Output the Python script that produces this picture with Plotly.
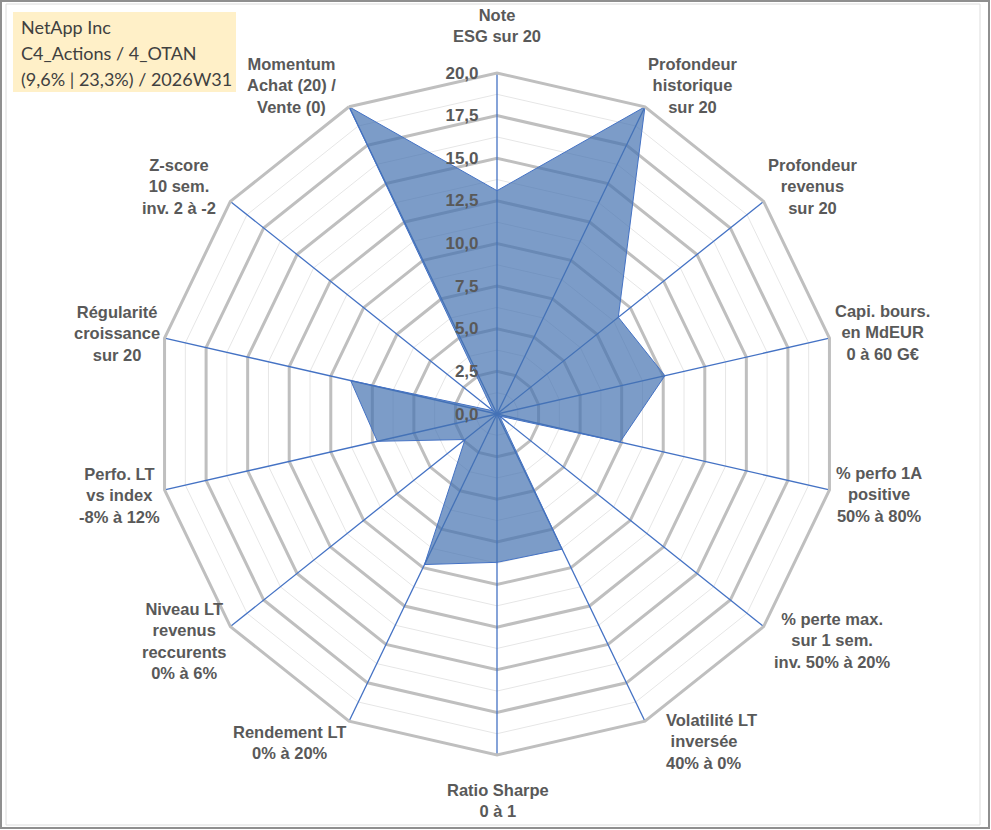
import plotly.graph_objects as go

categories = [
    "Note<br>ESG sur 20",
    "Profondeur<br>historique<br>sur 20",
    "Profondeur<br>revenus<br>sur 20",
    "Capi. bours.<br>en MdEUR<br>0 à 60 G€",
    "% perfo 1A<br>positive<br>50% à 80%",
    "% perte max.<br>sur 1 sem.<br>inv. 50% à 20%",
    "Volatilité LT<br> inversée<br>40% à 0%",
    "Ratio Sharpe<br>0 à 1",
    "Rendement LT<br>0% à 20%",
    "Niveau LT<br>revenus<br>reccurents<br>0% à 6%",
    "Perfo. LT<br>vs index<br>-8% à 12%",
    "Régularité<br>croissance<br>sur 20",
    "Z-score<br>10 sem.<br>inv. 2 à -2",
    "Momentum<br>Achat (20) /<br>Vente (0)",
]
values = [13.1, 20.0, 9.1, 10.1, 7.4, 0.2, 8.8, 8.7, 9.8, 2.4, 7.2, 8.8, 0.3, 20.0]

r_max = 20.0
major_step = 2.5
minor_levels = [1.25, 3.75, 6.25, 8.75, 11.25, 13.75, 16.25, 18.75]

info_lines = ["NetApp Inc", "C4_Actions / 4_OTAN", "(9,6% | 23,3%) / 2026W31"]

# label placement (pixel centre, alignment) for each category label
label_pos = [
    (497, 26, "center"), (692, 86, "center"), (812, 187, "center"),
    (882, 332, "center"), (879, 494, "center"), (832, 640, "center"),
    (664, 741, "left"), (498, 800, "center"), (289, 742, "center"),
    (184, 641, "center"), (119, 495, "center"), (117, 333, "center"),
    (179, 187, "center"), (291, 86, "center"),
]

W, H = 991, 830
cx, cy, R = 497, 414, 341
LABEL_FONT = dict(family="Liberation Sans, Arial", size=16.5, color="#595959", weight="bold")

fig = go.Figure()

theta_closed = categories + [categories[0]]

# minor rings
for lv in minor_levels:
    fig.add_trace(go.Scatterpolar(
        r=[lv] * len(theta_closed), theta=theta_closed, mode="lines",
        line=dict(color="#E6E6E6", width=1), hoverinfo="skip", showlegend=False))

# spokes
for c in categories:
    fig.add_trace(go.Scatterpolar(
        r=[0, r_max], theta=[c, c], mode="lines",
        line=dict(color="#4472C4", width=1.3), hoverinfo="skip", showlegend=False))

# data
fig.add_trace(go.Scatterpolar(
    r=values + [values[0]], theta=theta_closed, mode="lines",
    fill="toself", fillcolor="rgba(68,114,176,0.70)",
    line=dict(color="#4472C4", width=1), showlegend=False))

fig.update_layout(
    width=W, height=H,
    margin=dict(l=0, r=0, t=0, b=0),
    paper_bgcolor="white",
    separators=", ",
    showlegend=False,
    polar=dict(
        domain=dict(x=[(cx - R) / W, (cx + R) / W],
                    y=[1 - (cy + R) / H, 1 - (cy - R) / H]),
        gridshape="linear",
        bgcolor="rgba(0,0,0,0)",
        radialaxis=dict(
            range=[0, r_max], tick0=0, dtick=major_step, tickformat=".1f",
            angle=90, side="counterclockwise", tickangle=90,
            showline=False, ticks="outside", ticklen=12, tickcolor="rgba(0,0,0,0)",
            gridcolor="#BFBFBF", gridwidth=3,
            tickfont=dict(family="Liberation Sans, Arial", size=17, color="#595959", weight="bold"),
        ),
        angularaxis=dict(
            rotation=90, direction="clockwise",
            showgrid=False, showline=True, linecolor="#BFBFBF", linewidth=3,
            ticks="", showticklabels=False,
        ),
    ),
)

# category labels
for (x, y, al), txt in zip(label_pos, categories):
    fig.add_annotation(xref="paper", yref="paper", x=x / W, y=1 - y / H,
                       xanchor="left" if al == "left" else "center", yanchor="middle",
                       align=al, showarrow=False, text=txt, font=LABEL_FONT)

# info box
fig.add_shape(type="rect", xref="paper", yref="paper",
              x0=13 / W, x1=236 / W, y0=1 - 92 / H, y1=1 - 12 / H,
              fillcolor="#FFF0C8", line=dict(width=0), layer="below")
for i, t in enumerate(info_lines):
    fig.add_annotation(xref="paper", yref="paper", x=19 / W, y=1 - (27 + 26 * i) / H,
                       xanchor="left", yanchor="middle", showarrow=False, text=t,
                       font=dict(family="Lato, Carlito, Calibri", size=18, color="#404040"))

# frame
fig.add_shape(type="rect", xref="paper", yref="paper",
              x0=1 / W, x1=989 / W, y0=1 - 828 / H, y1=1 - 1 / H,
              line=dict(color="#8F8F8F", width=2))
fig.add_shape(type="rect", xref="paper", yref="paper",
              x0=6 / W, x1=980 / W, y0=1 - 825 / H, y1=1 - 4 / H,
              line=dict(color="#DCDCDC", width=1))

fig.write_html("out.html", config={"displayModeBar": False},
               post_script="document.body.style.margin='0';document.body.style.overflow='hidden';")
